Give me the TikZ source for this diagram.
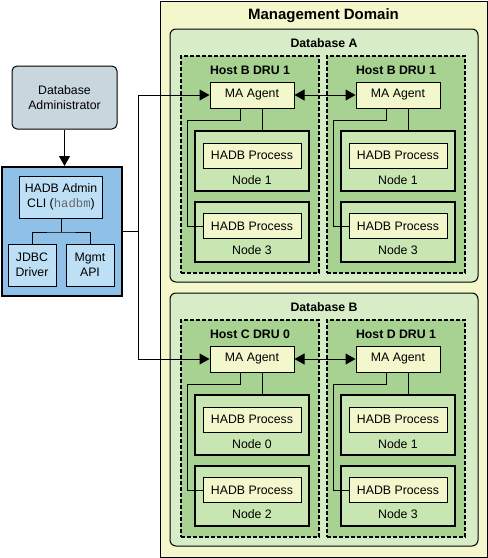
\documentclass[tikz,border=0pt]{standalone}
\usepackage{fontspec}
\setmainfont{Liberation Sans}
\setmonofont{Liberation Mono}
\usetikzlibrary{arrows.meta}
\definecolor{domainyellow}{HTML}{F4F7CC}
\definecolor{dbgreen}{HTML}{D6EDC8}
\definecolor{hostgreen}{HTML}{A8D292}
\definecolor{nodegreen}{HTML}{C8E6B2}
\definecolor{procyellow}{HTML}{F2F7CC}
\definecolor{admingray}{HTML}{C8D6DE}
\definecolor{clientblue}{HTML}{8FC0E8}
\definecolor{cliblue}{HTML}{BDE0F7}
\begin{document}
\begin{tikzpicture}[x=1pt,y=-1pt,line width=1pt,
  txt/.style={inner sep=0pt,align=center,font=\fontsize{12.3}{14.5}\selectfont},
  bold/.style={inner sep=0pt,font=\fontsize{12.3}{14.5}\selectfont\bfseries},
  box/.style={txt,draw,minimum width=#1},
  agent/.style={box=84pt,fill=procyellow,minimum height=26pt},
  proc/.style={box=98pt,fill=procyellow,minimum height=25pt},
  nodebox/.style={draw,line width=2pt,fill=nodegreen,minimum width=114pt,minimum height=60pt},
  hostbox/.style={draw,line width=1.6pt,dash pattern=on 4pt off 2pt,fill=hostgreen,minimum width=138pt,minimum height=217pt},
  dbbox/.style={draw,rounded corners=6pt,fill=dbgreen,minimum width=308pt,minimum height=253pt},
  tip/.style={-{Triangle[length=10pt,width=11pt]}},
  tips/.style={{Triangle[length=10pt,width=11pt]}-{Triangle[length=10pt,width=11pt]}}]
\useasboundingbox (0,0) rectangle (488,558);
% management domain
\node[draw,fill=domainyellow,minimum width=327pt,minimum height=556pt] (domain) at (323.5,279) {};
\node[bold,font=\fontsize{15}{18}\selectfont\bfseries] (domaintitle) at (323.5,16) {Management Domain};
\foreach \d/\dy in {A/0,B/264} {
  \node[dbbox] (db\d) at (324,155.5+\dy) {};
  \node[bold] (dbtitle\d) at (324,43+\dy) {Database \d};
}
% hosts
\foreach \d/\dy/\h/\hx/\host/\na/\nb in {A/0/l/0/{Host B DRU 1}/1/3,A/0/r/146/{Host B DRU 1}/1/3,
    B/264/l/0/{Host C DRU 0}/0/2,B/264/r/146/{Host D DRU 1}/1/3} {
  \begin{scope}[shift={(181+\hx,56+\dy)}]
  \node[hostbox] (host\d\h) at (69,108.5) {};
  \node[bold] (hosttitle\d\h) at (69,14) {\host};
  \node[agent] (ma\d\h) at (71,39) {MA Agent};
  \node[nodebox] (nodea\d\h) at (71,105) {};
  \node[proc] (proca\d\h) at (71,99.5) {HADB Process};
  \node[txt] (labela\d\h) at (71,124) {Node \na};
  \node[nodebox] (nodeb\d\h) at (71,175.5) {};
  \node[proc] (procb\d\h) at (71,170) {HADB Process};
  \node[txt] (labelb\d\h) at (71,194) {Node \nb};
  \coordinate (drop\d\h) at (81,0);
  \coordinate (tap\d\h) at (59,64);
  \coordinate (bend\d\h) at (6,64);
  \draw (drop\d\h |- ma\d\h.south) -- (drop\d\h |- nodea\d\h.north);
  \draw (tap\d\h |- ma\d\h.south) |- (bend\d\h) |- (procb\d\h.west);
  \end{scope}
}
\draw[tips] (maAl.east) -- (maAr.west);
\draw[tips] (maBl.east) -- (maBr.west);
% client side
\node[box=105pt,rounded corners=5pt,fill=admingray,minimum height=63pt] (admin) at (64.5,97.5) {Database\\Administrator};
\node[draw,line width=2pt,fill=clientblue,minimum width=120pt,minimum height=129pt] (client) at (62,231.5) {};
\node[box=83pt,fill=cliblue,minimum height=42pt] (cli) at (61,197) {HADB Admin\\CLI (\textcolor{black!60}{\ttfamily hadbm})};
\node[box=48pt,fill=cliblue,minimum height=42pt] (jdbc) at (32,265) {JDBC\\Driver};
\node[box=48pt,fill=cliblue,minimum height=42pt] (mgmt) at (90,265) {Mgmt\\API};
\coordinate (fork) at (0,232);
\draw (cli.south) -- (cli.south |- fork) coordinate (forkmid);
\draw (jdbc.north) |- (forkmid) -| (mgmt.north);
\draw[tip] (admin.south) -- (admin.south |- client.north);
\coordinate (split) at (138,231.5);
\draw (client.east) -- (split);
\draw[tip] (split) |- (maAl.west);
\draw[tip] (split) |- (maBl.west);
\end{tikzpicture}
\end{document}
